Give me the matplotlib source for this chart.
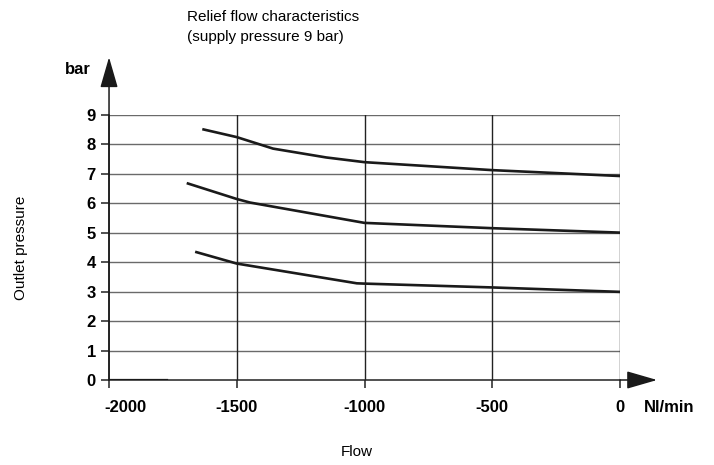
import matplotlib
matplotlib.use("Agg")
from matplotlib import pyplot as plt
from matplotlib.transforms import ScaledTranslation

plt.rcParams["font.family"] = ["Liberation Sans", "DejaVu Sans"]

# Curves (flow in Nl/min, outlet pressure in bar)
flow_high = [-1635, -1500, -1358, -1150, -1000, -500, 0]
pres_high = [8.51, 8.24, 7.85, 7.55, 7.39, 7.12, 6.92]

flow_mid = [-1696, -1500, -1448, -1000, -500, 0]
pres_mid = [6.68, 6.14, 6.02, 5.33, 5.15, 5.00]

flow_low = [-1663, -1500, -1030, -1000, -500, 0]
pres_low = [4.35, 3.95, 3.28, 3.27, 3.14, 2.99]

flow_zero = [-2000, -1775]
pres_zero = [0, 0]

x_ticks = [-2000, -1500, -1000, -500, 0]
x_labels = ["-2000", "-1500", "-1000", "-500", "0"]
y_ticks = [0, 1, 2, 3, 4, 5, 6, 7, 8, 9]

fig = plt.figure(figsize=(7.14, 4.65), dpi=100)
ax = fig.add_axes([0.1527, 0.1828, 0.7157, 0.5705])
ax.set_xlim(-2000, 0)
ax.set_ylim(0, 9)

# grid: gray horizontal, dark vertical
for y in y_ticks[1:]:
    ax.axhline(y, color="#6a6a6a", linewidth=1.0, zorder=1)
for x in x_ticks[1:]:
    ax.axvline(x, color="#222222", linewidth=1.0, zorder=1)

for fx, py in [(flow_high, pres_high), (flow_mid, pres_mid), (flow_low, pres_low)]:
    ax.plot(fx, py, color="#1a1a1a", linewidth=1.9, zorder=3, solid_capstyle="butt")
ax.plot(flow_zero, pres_zero, color="#1a1a1a", linewidth=1.6, zorder=3)

for side in ["top", "right"]:
    ax.spines[side].set_visible(False)
ax.spines["left"].set_color("#222222")
ax.spines["bottom"].set_color("#222222")
ax.spines["left"].set_linewidth(1.1)
ax.spines["bottom"].set_linewidth(1.1)

ax.set_xticks(x_ticks)
ax.set_xticklabels(x_labels, fontweight="bold", fontsize=12)
ax.set_yticks(y_ticks)
ax.set_yticklabels([str(v) for v in y_ticks], fontweight="bold", fontsize=12)
ax.tick_params(axis="both", direction="out", length=5.5, width=1.1, color="#222222")
ax.tick_params(axis="x", pad=9)
ax.tick_params(axis="y", pad=4)

# shift the first x label to the right like the original
lbl = ax.get_xticklabels()[0]
lbl.set_transform(lbl.get_transform() + ScaledTranslation(0.16, 0, fig.dpi_scale_trans))

# axis arrows
arrow = dict(arrowstyle="-|>,head_length=1.9,head_width=0.55",
             color="#1a1a1a", lw=1.1, mutation_scale=10, shrinkA=0, shrinkB=0)
ax.annotate("", xy=(-2000, 10.95), xytext=(-2000, 0), xycoords="data",
            arrowprops=arrow, annotation_clip=False)
ax.annotate("", xy=(145, 0), xytext=(0, 0), xycoords="data",
            arrowprops=arrow, annotation_clip=False)

fig.text(187 / 714, 1 - 17 / 465, "Relief flow characteristics", fontsize=11,
         ha="left", va="center")
fig.text(187 / 714, 1 - 37 / 465, "(supply pressure 9 bar)", fontsize=11,
         ha="left", va="center")
fig.text(91 / 714, 1 - 70 / 465, "bar", fontsize=12, fontweight="bold",
         ha="right", va="center")
fig.text(644 / 714, 1 - 407 / 465, "Nl/min", fontsize=12, fontweight="bold",
         ha="left", va="center")
fig.text(21 / 714, 1 - 248 / 465, "Outlet pressure", fontsize=11,
         rotation=90, ha="center", va="center")
fig.text(357 / 714, 1 - 452 / 465, "Flow", fontsize=11, ha="center", va="center")

fig.savefig("out.png", dpi=100)
